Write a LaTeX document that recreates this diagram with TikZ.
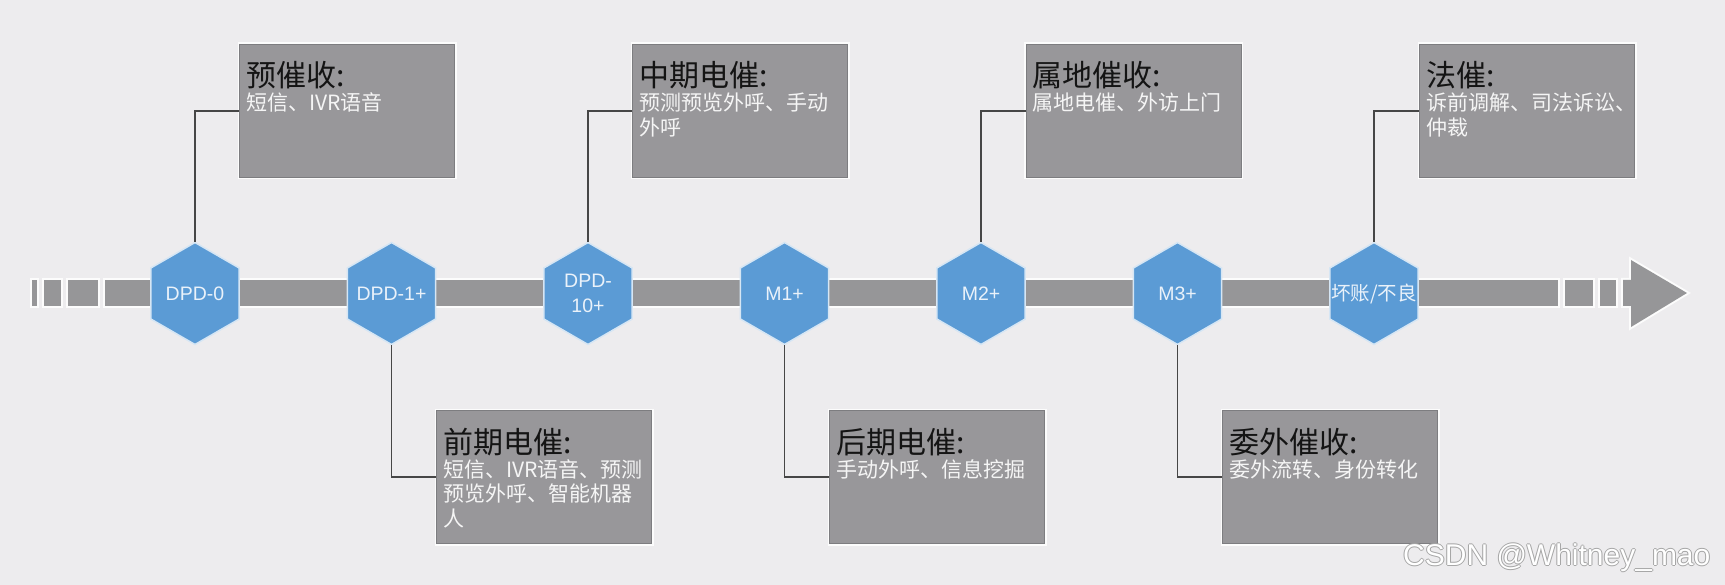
\documentclass[tikz,border=0pt]{standalone}
\usepackage{fontspec}
\setmainfont{Liberation Sans}
\newfontfamily\cjk{Noto Sans CJK SC}
\usetikzlibrary{shapes.geometric}
\definecolor{bgc}{RGB}{237,236,238}
\definecolor{barc}{RGB}{150,150,152}
\definecolor{boxc}{RGB}{152,151,154}
\definecolor{boxedge}{RGB}{125,125,128}
\definecolor{hexc}{RGB}{91,155,213}
\definecolor{hextxt}{RGB}{234,242,250}
\definecolor{linec}{RGB}{70,70,70}
\definecolor{titlec}{RGB}{20,20,20}
\definecolor{subc}{RGB}{245,245,245}
\newcommand\zw[1]{\makebox[0pt][c]{#1}}
\begin{document}
\begin{tikzpicture}[x=1pt,y=-1pt,
  halo/.style={preaction={draw=white!85!bgc,line width=4pt}},
  barseg/.style={fill=barc,halo},
  hexa/.style={regular polygon,regular polygon sides=6,shape border rotate=30,
    minimum size=102pt,inner sep=0pt,fill=hexc,draw=white!75!hexc,line width=1.5pt,
    text=hextxt,font=\fontsize{19.5}{25}\selectfont,align=center},
  gbox/.style={rectangle,anchor=north west,minimum width=215pt,minimum height=133pt,
    inner sep=0pt,fill=boxc,draw=boxedge,line width=1pt,halo},
  ttl/.style={anchor=base west,inner sep=0pt,text=titlec,font=\cjk\fontsize{30}{30}\selectfont},
  sub/.style={anchor=base west,inner sep=0pt,text=subc,font=\cjk\fontsize{21}{24.5}\selectfont},
  conn/.style={draw=linec,line width=1.2pt},
  wm/.style={anchor=base west,inner sep=0pt,font=\fontsize{30}{30}\selectfont}]
\fill[bgc] (0,0) rectangle (1725,585);
\useasboundingbox (0,0) rectangle (1725,585);
% timeline bar
\fill[barseg] (32,280) rectangle (37,306);
\fill[barseg] (44,280) rectangle (61,306);
\fill[barseg] (68,280) rectangle (98,306);
\fill[barseg] (105,280) rectangle (1558,306);
\fill[barseg] (1565,280) rectangle (1593,306);
\fill[barseg] (1600,280) rectangle (1616,306);
\fill[barseg] (1623,280) -- (1631,280) -- (1631,260) -- (1687,293) -- (1631,327) -- (1631,306) -- (1623,306) -- cycle;
% hexagons
\node[hexa] (h1) at (195,293.5) {\zw{DPD-0}};
\node[hexa] (h2) at (391.5,293.5) {\zw{DPD-1+}};
\node[hexa] (h3) at (588,293.5) {\zw{DPD-}\\\zw{10+}};
\node[hexa] (h4) at (784.5,293.5) {\zw{M1+}};
\node[hexa] (h5) at (981,293.5) {\zw{M2+}};
\node[hexa] (h6) at (1177.5,293.5) {\zw{M3+}};
\node[hexa] (h7) at (1374,293.5) {\zw{\cjk 坏账/不良}};
% boxes
\node[gbox] (b1) at (239,44) {};
\node[gbox] (b3) at (632,44) {};
\node[gbox] (b5) at (1025.5,44) {};
\node[gbox] (b7) at (1419,44) {};
\node[gbox] (b2) at (436,410) {};
\node[gbox] (b4) at (829,410) {};
\node[gbox] (b6) at (1222,410) {};
% connectors
\draw[conn] (h1.north) |- (b1.west);
\draw[conn] (h3.north) |- (b3.west);
\draw[conn] (h5.north) |- (b5.west);
\draw[conn] (h7.north) |- (b7.west);
\draw[conn] (h2.south) |- (b2.west);
\draw[conn] (h4.south) |- (b4.west);
\draw[conn] (h6.south) |- (b6.west);
% texts
\node[ttl] (t1) at (246,87) {预催收:};
\node[sub] (s1) at (246,111) {\parbox[t]{210pt}{短信、IVR语音}};
\node[ttl] (t3) at (639,87) {中期电催:};
\node[sub] (s3) at (639,111) {\parbox[t]{210pt}{预测预览外呼、手动\\外呼}};
\node[ttl] (t5) at (1032.5,87) {属地催收:};
\node[sub] (s5) at (1032.5,111) {\parbox[t]{210pt}{属地电催、外访上门}};
\node[ttl] (t7) at (1426,87) {法催:};
\node[sub] (s7) at (1426,111) {\parbox[t]{210pt}{诉前调解、司法诉讼、\\仲裁}};
\node[ttl] (t2) at (443,453) {前期电催:};
\node[sub] (s2) at (443,477) {\parbox[t]{210pt}{短信、IVR语音、预测\\预览外呼、智能机器\\人}};
\node[ttl] (t4) at (836,453) {后期电催:};
\node[sub] (s4) at (836,477) {\parbox[t]{210pt}{手动外呼、信息挖掘}};
\node[ttl] (t6) at (1229,453) {委外催收:};
\node[sub] (s6) at (1229,477) {\parbox[t]{210pt}{委外流转、身份转化}};
% watermark
\node[wm,text=gray!70] (wm1) at (1402,565) {CSDN @Whitney\_mao};
\node[wm,text=gray!70] (wm2) at (1404,565) {CSDN @Whitney\_mao};
\node[wm,text=gray!70] (wm3) at (1403,564) {CSDN @Whitney\_mao};
\node[wm,text=gray!70] (wm4) at (1403,566) {CSDN @Whitney\_mao};
\node[wm,text=white] (wm5) at (1403,565) {CSDN @Whitney\_mao};
\end{tikzpicture}
\end{document}
